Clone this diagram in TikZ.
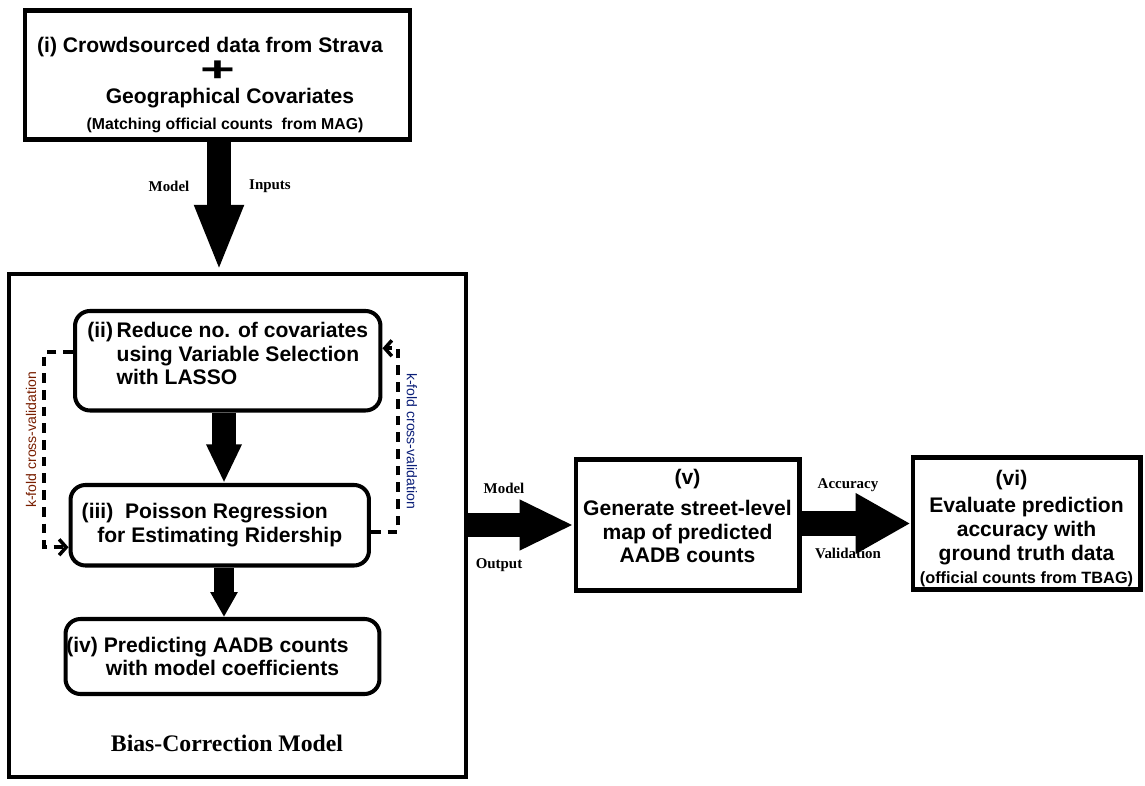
\documentclass[tikz,border=0pt]{standalone}
\usepackage{fontspec}
\setmainfont{Liberation Serif}
\setsansfont{Liberation Sans}
\usepackage{graphicx}
\usetikzlibrary{arrows.meta}
\usetikzlibrary{positioning}

\definecolor{cvred}{RGB}{120,30,0}
\definecolor{cvblue}{RGB}{10,30,120}

\tikzset{
  stagebox/.style={draw, line width=2.3pt, inner sep=0pt, align=center,
    font=\sffamily\bfseries\fontsize{12}{13.5}\selectfont},
  roundbox/.style={stagebox, rounded corners=8.5pt},
  blockarrow/.style n args={3}{line width=#1, -{Triangle[width=#2, length=#3]}},
  cvloop/.style={line width=2.5pt, dash pattern=on 5.5pt off 4pt,
    -{Straight Barb[length=4pt, width=9pt, line width=2pt]}},
  cvlabel/.style={font=\sffamily\fontsize{8}{9}\selectfont},
  arrowlabel/.style={font=\bfseries\fontsize{8.5}{10}\selectfont},
}

\begin{document}
\begin{tikzpicture}[x=0.02cm, y=-0.02cm]
\useasboundingbox (0,0) rectangle (1145,786);

% model inputs
\node [stagebox, minimum width=7.72cm, minimum height=2.58cm] (inputs) at (217.5,75)
  {\rule{0pt}{20pt}(i) Crowdsourced data from Strava\hspace*{0.3cm}\\[1.4pt]
   \scalebox{1.7}[1]{\fontsize{20}{20}\selectfont +}\\[-1pt]
   \hspace*{0.5cm}Geographical Covariates\\[1pt]
   \hspace*{0.3cm}{\fontsize{9}{10}\selectfont (Matching\ official counts\ \ from MAG)}};

% bias-correction model
\node [draw, line width=2.3pt, minimum width=9.16cm, minimum height=10.08cm] (model) at (237.5,525.5) {};
\node [roundbox, minimum width=6.11cm, minimum height=1.99cm] (reduce) at (227.75,360.75)
  {(ii)\,\begin{tabular}[t]{@{}l@{}}Reduce no. of covariates\\using Variable Selection\\with LASSO\end{tabular}\\[4pt]};
\node [roundbox, minimum width=5.97cm, minimum height=1.61cm] (poisson) at (219.75,525.25)
  {(iii)\ \ Poisson Regression\hspace*{0.6cm}\\for Estimating Ridership};
\node [roundbox, minimum width=6.28cm, minimum height=1.5cm] (predict) at (222.5,656.5)
  {(iv) Predicting AADB counts\hspace*{0.6cm}\\with model coefficients};
\node [arrowlabel, font=\bfseries\fontsize{13.5}{15}\selectfont] (biaslabel) at (227,743) {Bias-Correction Model};

% k-fold loops
\draw [cvloop] ([yshift=0.17cm]reduce.west) -- ++(-29,0) |- ([yshift=-0.44cm]poisson.west);
\draw [cvloop] ([yshift=-0.13cm]poisson.east) -- ++(27,0) |- ([yshift=0.25cm]reduce.east);
\node [cvlabel, text=cvred, rotate=90] (cvleft) at (31,440) {k-fold cross-validation};
\node [cvlabel, text=cvblue, rotate=-90] (cvright) at (412,441) {k-fold cross-validation};

% map and evaluation
\node [stagebox, minimum width=4.48cm, minimum height=2.62cm] (map) at (687.5,525)
  {(v)\\[4pt]Generate street-level\\map of predicted\\AADB counts\rule[-10pt]{0pt}{10pt}};
\node [stagebox, minimum width=4.56cm, minimum height=2.64cm] (evaluate) at (1026.5,523.5)
  {\rule{0pt}{14.5pt}(vi)\hspace*{0.6cm}\\[2pt]Evaluate prediction\\accuracy with\hspace*{0.55cm}\\ground truth data\\
   {\fontsize{9.3}{10}\selectfont (official counts from TBAG)}};

% block arrows
\draw [blockarrow={14.2pt}{25.5pt}{38pt}] (inputs.south -| 219,0) -- (model.north -| 219,0);
\draw [blockarrow={13.6pt}{18.7pt}{22pt}] (reduce.south -| 224,0) -- (poisson.north -| 224,0);
\draw [blockarrow={11.3pt}{14.7pt}{14.2pt}] (poisson.south -| 224,0) -- (predict.north -| 224,0);
\draw [blockarrow={14.2pt}{26.6pt}{30.6pt}] (model.east |- map.west) -- (map.west);
\draw [blockarrow={14.2pt}{32.3pt}{31.2pt}] (map.east |- evaluate.west) -- (evaluate.west);

% arrow labels
\node [arrowlabel] (inl) at (169,186) {Model};
\node [arrowlabel] (inr) at (270,186) {Inputs};
\node [arrowlabel] (outt) at (504,488) {Model};
\node [arrowlabel] (outb) at (499,565) {Output};
\node [arrowlabel] (acct) at (848,485) {Accuracy};
\node [arrowlabel] (accb) at (848,553) {Validation};
\end{tikzpicture}
\end{document}
